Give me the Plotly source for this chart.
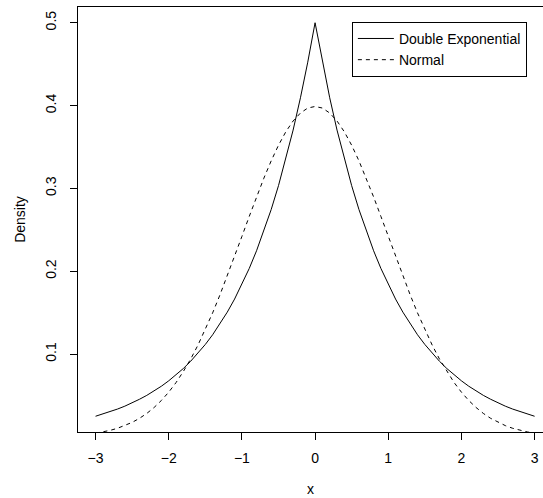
import plotly.graph_objects as go

# x grid (step 0.1)
x_vals = [round(-3 + 0.1 * i, 1) for i in range(61)]

# positive half (x = 0.0 .. 3.0) of each density
dexp_half = [0.5000, 0.4524, 0.4094, 0.3704, 0.3352, 0.3033, 0.2744, 0.2483, 0.2247, 0.2033,
             0.1839, 0.1664, 0.1506, 0.1363, 0.1233, 0.1116, 0.1009, 0.0913, 0.0826, 0.0748,
             0.0677, 0.0612, 0.0554, 0.0501, 0.0454, 0.0410, 0.0371, 0.0336, 0.0304, 0.0275,
             0.0249]
norm_half = [0.3989, 0.3970, 0.3910, 0.3814, 0.3683, 0.3521, 0.3332, 0.3123, 0.2897, 0.2661,
             0.2420, 0.2179, 0.1942, 0.1714, 0.1497, 0.1295, 0.1109, 0.0940, 0.0790, 0.0656,
             0.0540, 0.0440, 0.0355, 0.0283, 0.0224, 0.0175, 0.0136, 0.0104, 0.0079, 0.0060,
             0.0044]
dexp_vals = dexp_half[:0:-1] + dexp_half
norm_vals = norm_half[:0:-1] + norm_half

x_ticks = [-3, -2, -1, 0, 1, 2, 3]
x_ticklabels = ["\u22123", "\u22122", "\u22121", "0", "1", "2", "3"]
y_ticks = [0.1, 0.2, 0.3, 0.4, 0.5]
y_ticklabels = ["0.1", "0.2", "0.3", "0.4", "0.5"]

FONT = "Liberation Sans, Arial, Helvetica, sans-serif"
FS = 14

fig = go.Figure()
fig.add_trace(go.Scatter(x=x_vals, y=dexp_vals, mode="lines", name="Double Exponential",
                         line=dict(color="black", width=1)))
fig.add_trace(go.Scatter(x=x_vals, y=norm_vals, mode="lines", name="Normal",
                         line=dict(color="black", width=1, dash="4px,4px")))

fig.update_layout(
    width=543, height=498,
    margin=dict(l=78, r=0, t=7, b=66),
    paper_bgcolor="white", plot_bgcolor="white",
    font=dict(family=FONT, size=FS, color="black"),
    showlegend=True,
    legend=dict(x=0.589, y=0.965, xanchor="left", yanchor="top",
                bordercolor="black", borderwidth=1, bgcolor="white",
                font=dict(family=FONT, size=FS, color="black"),
                tracegroupgap=0, itemwidth=36),
)
fig.update_xaxes(
    range=[-3.24, 3.115], tickmode="array", tickvals=x_ticks, ticktext=x_ticklabels,
    showgrid=False, zeroline=False, showline=True, linecolor="black", linewidth=1,
    mirror=True, ticks="outside", ticklen=7, tickcolor="black", ticklabelstandoff=6,
    title=dict(text="x", standoff=19, font=dict(family=FONT, size=FS, color="black")),
)
fig.update_yaxes(
    range=[0.0059, 0.519], tickmode="array", tickvals=y_ticks, ticktext=y_ticklabels,
    tickangle=-90,
    showgrid=False, zeroline=False, showline=True, linecolor="black", linewidth=1,
    ticks="outside", ticklen=7, tickcolor="black", ticklabelstandoff=8,
    title=dict(text="Density", standoff=14, font=dict(family=FONT, size=FS, color="black")),
)

fig.write_html("out.html")
